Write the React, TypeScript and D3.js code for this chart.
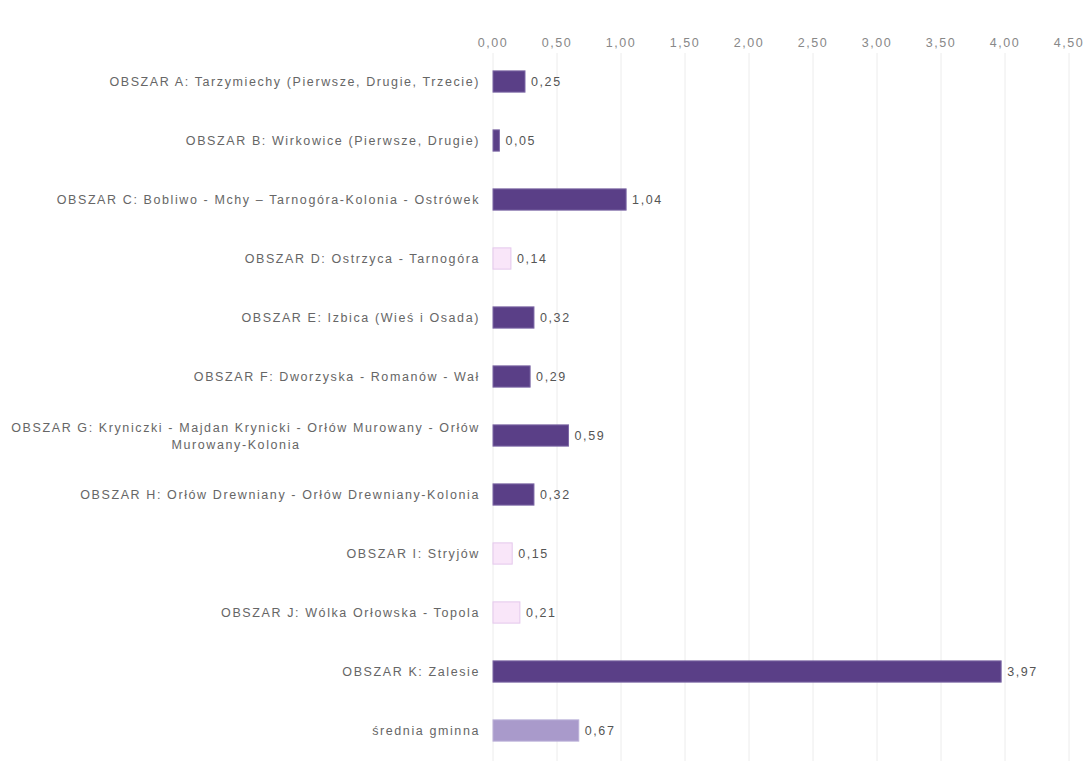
import React from "react";
import * as d3 from "d3";

const categories: string[][] = [
  ["OBSZAR A: Tarzymiechy (Pierwsze, Drugie, Trzecie)"],
  ["OBSZAR B: Wirkowice (Pierwsze, Drugie)"],
  ["OBSZAR C: Bobliwo - Mchy – Tarnogóra-Kolonia - Ostrówek"],
  ["OBSZAR D: Ostrzyca - Tarnogóra"],
  ["OBSZAR E: Izbica (Wieś i Osada)"],
  ["OBSZAR F: Dworzyska - Romanów - Wał"],
  ["OBSZAR G: Kryniczki - Majdan Krynicki - Orłów Murowany - Orłów", "Murowany-Kolonia"],
  ["OBSZAR H: Orłów Drewniany - Orłów Drewniany-Kolonia"],
  ["OBSZAR I: Stryjów"],
  ["OBSZAR J: Wólka Orłowska - Topola"],
  ["OBSZAR K: Zalesie"],
  ["średnia gminna"],
];
const values: number[] = [0.25, 0.05, 1.04, 0.14, 0.32, 0.29, 0.59, 0.32, 0.15, 0.21, 3.97, 0.67];
const kinds: string[] = ["dark", "dark", "dark", "light", "dark", "dark", "dark", "dark", "light", "light", "dark", "avg"];
const ticks: number[] = [0, 0.5, 1, 1.5, 2, 2.5, 3, 3.5, 4, 4.5];

const fill: Record<string, string> = { dark: "#5a3f87", light: "#f9e6f9", avg: "#a99acb" };
const stroke: Record<string, string> = { dark: "#7d68a6", light: "#e4c8ec", avg: "#bbb0d8" };

const fmt = (v: number) => v.toFixed(2).replace(".", ",");

export default function App() {
  const W = 1089, H = 761;
  const x = d3.scaleLinear().domain([0, 4.5]).range([493, 1069]);
  const y = d3.scaleBand<number>().domain(d3.range(values.length)).range([52, 760]).paddingInner(0.64).paddingOuter(0.32);
  const fs = 12.5;
  const ls = 1.6;
  return (
    <svg width={W} height={H} style={{ position: "absolute", left: 0, top: 0, fontFamily: "Liberation Sans, Arial, sans-serif" }}>
      <rect width={W} height={H} fill="#fff" />
      {ticks.map((t) => (
        <g key={t}>
          <line x1={x(t)} x2={x(t)} y1={53} y2={761} stroke="#ececec" strokeWidth={1} />
          <text x={x(t)} y={47} textAnchor="middle" fontSize={fs} letterSpacing={ls} fill="#888">{fmt(t)}</text>
        </g>
      ))}
      {values.map((v, i) => {
        const yc = (y(i) as number) + y.bandwidth() / 2;
        const lines = categories[i];
        return (
          <g key={i}>
            <rect x={x(0)} y={y(i)} width={x(v) - x(0)} height={y.bandwidth()} fill={fill[kinds[i]]} stroke={stroke[kinds[i]]} strokeWidth={1} />
            <text x={x(v) + 6} y={yc + 4.5} fontSize={fs} letterSpacing={ls} fill="#555">{fmt(v)}</text>
            {lines.length === 1 ? (
              <text x={480} y={yc + 4.5} textAnchor="end" fontSize={fs} letterSpacing={ls} fill="#666">{lines[0]}</text>
            ) : (
              <text fontSize={fs} letterSpacing={ls} fill="#666">
                <tspan x={480} y={yc - 4} textAnchor="end">{lines[0]}</tspan>
                <tspan x={236} y={yc + 13} textAnchor="middle">{lines[1]}</tspan>
              </text>
            )}
          </g>
        );
      })}
    </svg>
  );
}
